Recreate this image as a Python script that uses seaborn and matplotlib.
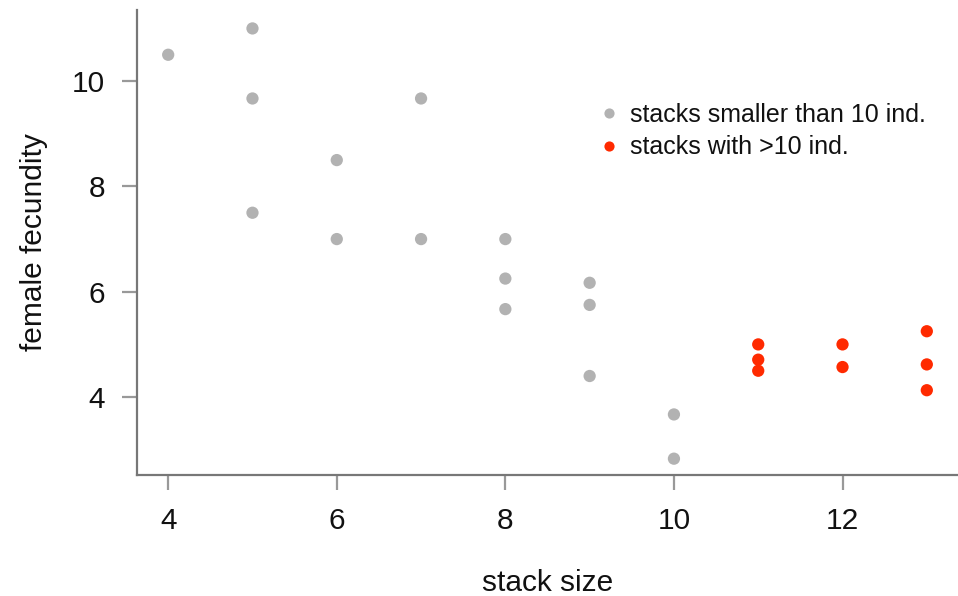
import matplotlib
matplotlib.use("Agg")
import matplotlib.pyplot as plt
import seaborn as sns
import pandas as pd

stack_small = [4, 5, 5, 5, 6, 6, 7, 7, 8, 8, 8, 9, 9, 9, 10, 10]
fec_small = [10.5, 11.0, 9.67, 7.5, 8.5, 7.0, 9.67, 7.0, 7.0, 6.25, 5.67, 6.17, 5.75, 4.4, 3.67, 2.83]
stack_large = [11, 11, 11, 12, 12, 13, 13, 13]
fec_large = [5.0, 4.71, 4.5, 5.0, 4.57, 5.25, 4.62, 4.13]
labels = ["stacks smaller than 10 ind.", "stacks with >10 ind."]
x_ticks = [4, 6, 8, 10, 12]
y_ticks = [4, 6, 8, 10]

df = pd.DataFrame({
    "stack size": stack_small + stack_large,
    "female fecundity": fec_small + fec_large,
    "group": [labels[0]] * len(stack_small) + [labels[1]] * len(stack_large),
})

sns.set_style("white")
plt.rcParams["font.family"] = ["Liberation Sans", "DejaVu Sans"]

fig = plt.figure(figsize=(9.58, 5.96), dpi=100)
ax = fig.add_axes([137 / 958, 121 / 596, 1 - 137 / 958, 465 / 596])

sns.scatterplot(data=df, x="stack size", y="female fecundity", hue="group",
                palette={labels[0]: "#b2b2b2", labels[1]: "#ff2a00"},
                s=78, linewidth=0, ax=ax, legend=True)

ax.set_xlim(3.63, 13.37)
ax.set_ylim(2.52, 11.35)
ax.set_xticks(x_ticks)
ax.set_yticks(y_ticks)
ax.set_xticklabels([str(t) for t in x_ticks])
ax.set_yticklabels([str(t) for t in y_ticks])

for side in ["top", "right"]:
    ax.spines[side].set_visible(False)
for side in ["left", "bottom"]:
    ax.spines[side].set_color("#777777")
    ax.spines[side].set_linewidth(1.6)

ax.tick_params(axis="both", which="major", length=11, width=1.6, color="#999999",
               labelsize=21.5, labelcolor="#111111", left=True, bottom=True)
ax.tick_params(axis="x", pad=12)
ax.tick_params(axis="y", pad=12)

ax.set_xlabel("stack size", fontsize=21.5, color="#111111")
ax.set_ylabel("female fecundity", fontsize=21.5, color="#111111")
ax.xaxis.set_label_coords(0.5, -0.233)
ax.yaxis.set_label_coords(-0.125, 0.501)
ax.xaxis.label.set_va("center")
ax.yaxis.label.set_va("center")

leg = ax.legend(loc="upper left", bbox_to_anchor=(0.560, 0.800), frameon=False,
                fontsize=18, handlelength=1.0, handletextpad=0.32, labelspacing=0.33,
                markerscale=0.83, borderaxespad=0, borderpad=0)
for t in leg.get_texts():
    t.set_color("#111111")
leg.legend_handles[0].set_color("#c8c8c8")

fig.savefig("out.png", dpi=100)
